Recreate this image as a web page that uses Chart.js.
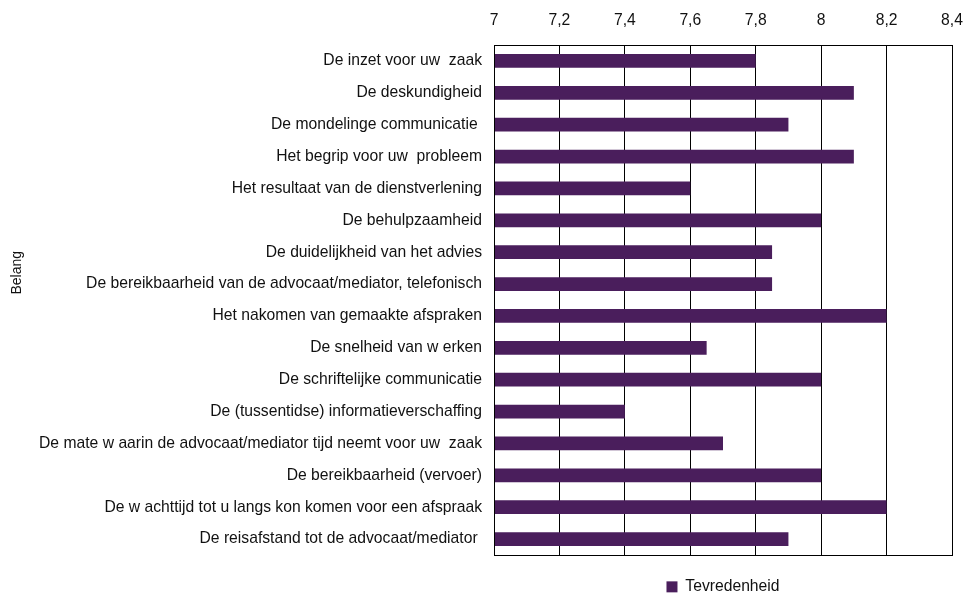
<!DOCTYPE html>
<html>
<head>
<meta charset="utf-8">
<script src="https://cdn.jsdelivr.net/npm/chart.js@4/dist/chart.umd.min.js"></script>
<style>
  html, body { margin: 0; padding: 0; background: #fff; }
  #wrap { width: 965px; height: 595px; position: relative; }
</style>
</head>
<body>
<div id="wrap"><canvas id="chart"></canvas></div>
<script>
const categories = [
  "De inzet voor uw  zaak",
  "De deskundigheid",
  "De mondelinge communicatie ",
  "Het begrip voor uw  probleem",
  "Het resultaat van de dienstverlening",
  "De behulpzaamheid",
  "De duidelijkheid van het advies",
  "De bereikbaarheid van de advocaat/mediator, telefonisch",
  "Het nakomen van gemaakte afspraken",
  "De snelheid van w erken",
  "De schriftelijke communicatie",
  "De (tussentidse) informatieverschaffing",
  "De mate w aarin de advocaat/mediator tijd neemt voor uw  zaak",
  "De bereikbaarheid (vervoer)",
  "De w achttijd tot u langs kon komen voor een afspraak",
  "De reisafstand tot de advocaat/mediator "
];
const tevredenheid = [7.8, 8.1, 7.9, 8.1, 7.6, 8.0, 7.85, 7.85, 8.2, 7.65, 8.0, 7.4, 7.7, 8.0, 8.2, 7.9];
const xMin = 7, xMax = 8.4, xStep = 0.2;

const FONT = "'Liberation Sans', Arial, sans-serif";
const TEXT = "#111";

// frame round the plot area
const frame = {
  id: "frame",
  afterDraw(chart) {
    const a = chart.chartArea, c = chart.ctx;
    c.save();
    c.strokeStyle = "#000";
    c.lineWidth = 1;
    c.strokeRect(Math.round(a.left) + 0.5, Math.round(a.top) + 0.5,
      Math.round(a.right - a.left), Math.round(a.bottom - a.top));
    c.restore();
  }
};

new Chart(document.getElementById("chart"), {
  type: "bar",
  data: {
    labels: categories,
    datasets: [{
      label: "Tevredenheid",
      data: tevredenheid,
      backgroundColor: "#4a1e5c",
      barPercentage: 0.43,
      categoryPercentage: 1
    }]
  },
  options: {
    indexAxis: "y",
    responsive: true,
    maintainAspectRatio: false,
    animation: false,
    layout: { padding: { left: 0, right: 13, top: 0, bottom: 0 } },
    scales: {
      x: {
        position: "top",
        min: xMin,
        max: xMax,
        ticks: {
          stepSize: xStep,
          color: TEXT,
          font: { family: FONT, size: 15.7 },
          padding: 15,
          callback: v => String(Math.round(v * 10) / 10).replace(".", ",")
        },
        grid: { color: "#000", lineWidth: 1, drawTicks: false },
        border: { display: true, color: "#000" },
        afterFit: s => { s.height = 45; s.paddingLeft = 0; s.paddingRight = 0; }
      },
      // empty axis, only keeps the gap between plot and legend
      x2: {
        position: "bottom",
        display: true,
        min: xMin,
        max: xMax,
        ticks: { display: false },
        grid: { display: false, drawTicks: false },
        border: { display: false },
        afterFit: s => { s.height = 14; s.paddingLeft = 0; s.paddingRight = 0; }
      },
      y: {
        ticks: {
          color: TEXT,
          font: { family: FONT, size: 15.7 },
          padding: 12
        },
        grid: { display: false, drawTicks: false },
        border: { display: true, color: "#000" },
        title: {
          display: true,
          text: "              Belang",
          color: TEXT,
          font: { family: FONT, size: 14 },
          padding: { top: 9, bottom: 0 }
        },
        afterFit: s => { s.width = 494; }
      }
    },
    plugins: {
      legend: {
        position: "bottom",
        fullSize: false,
        maxHeight: 26,
        labels: {
          color: TEXT,
          font: { family: FONT, size: 15.7 },
          boxWidth: 11,
          boxHeight: 11,
          padding: 10
        }
      },
      tooltip: { enabled: false }
    }
  },
  plugins: [frame]
});
</script>
</body>
</html>
